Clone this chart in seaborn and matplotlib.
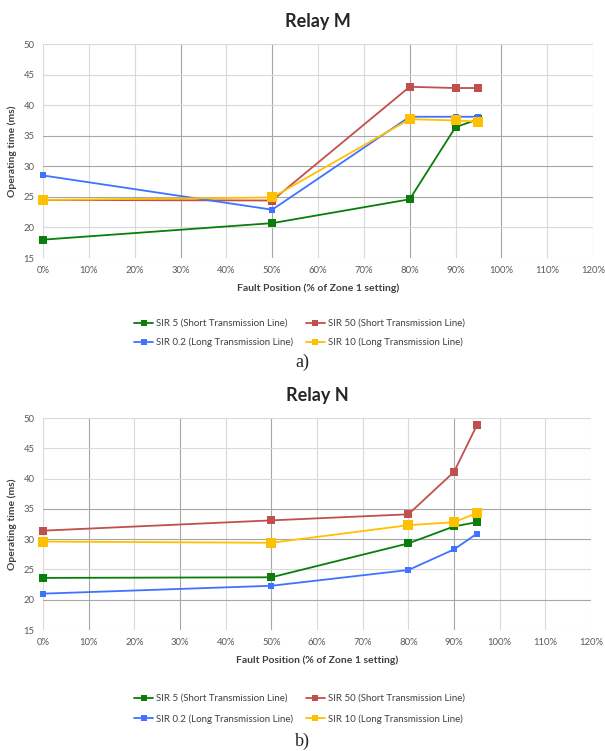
import matplotlib
matplotlib.use("Agg")
import matplotlib.pyplot as plt
import seaborn as sns
import pandas as pd
from matplotlib.lines import Line2D

# ---- data ----
fault_pos = [0, 50, 80, 90, 95]  # % of Zone 1 setting
series_names = ["SIR 5 (Short Transmission Line)", "SIR 50 (Short Transmission Line)",
                "SIR 0.2 (Long Transmission Line)", "SIR 10 (Long Transmission Line)"]

relay_m_sir5 = [18.0, 20.7, 24.6, 36.4, 37.7]
relay_m_sir50 = [24.5, 24.4, 43.0, 42.8, 42.8]
relay_m_sir02 = [28.5, 22.9, 38.1, 38.1, 38.1]
relay_m_sir10 = [24.5, 24.9, 37.7, 37.5, 37.3]

relay_n_sir5 = [23.6, 23.7, 29.3, 32.1, 32.8]
relay_n_sir50 = [31.4, 33.1, 34.1, 41.1, 48.8]
relay_n_sir02 = [21.0, 22.3, 24.9, 28.3, 30.9]
relay_n_sir10 = [29.6, 29.4, 32.3, 32.8, 34.3]

x_ticks = list(range(0, 121, 10))
y_ticks = list(range(15, 51, 5))

colors = ["#0a7d0a", "#c0504d", "#3f73ff", "#ffc000"]
msizes = [6.4, 6.0, 4.6, 7.0]

sns.set_theme(style="white")
plt.rcParams['font.family'] = ['Lato', 'DejaVu Sans']

fig = plt.figure(figsize=(6.05, 7.51), dpi=100)
W, H = 605, 751

def px_axes(l, t, r, b):
    return fig.add_axes([l / W, 1 - b / H, (r - l) / W, (b - t) / H])

ax1 = px_axes(43, 44, 593, 258)
ax2 = px_axes(43, 418, 591, 630)

def draw(ax, data, title, dark_x, dark_y, leg_top, leg_spacing):
    for vals, name, c, ms in zip(data, series_names, colors, msizes):
        df = pd.DataFrame({"x": fault_pos, "y": vals})
        sns.lineplot(data=df, x="x", y="y", ax=ax, color=c, marker="s",
                     markersize=ms, markeredgewidth=0, linewidth=1.3, zorder=3,
                     clip_on=False)
    ax.set_xlim(0, 120)
    ax.set_ylim(15, 50)
    ax.set_xticks(x_ticks)
    ax.set_xticklabels([f"{v}%" for v in x_ticks])
    ax.set_yticks(y_ticks)
    ax.tick_params(axis="both", labelsize=6.8, colors="#595959", length=0, pad=6)
    ax.grid(True, color="#d9d9d9", linewidth=0.8)
    for i, gl in enumerate(ax.get_xgridlines()):
        if x_ticks[i] in dark_x:
            gl.set_color("#a6a6a6")
    for i, gl in enumerate(ax.get_ygridlines()):
        if y_ticks[i] in dark_y:
            gl.set_color("#a6a6a6")
    for s in ax.spines.values():
        s.set_visible(False)
    ax.set_xlabel("Fault Position (% of Zone 1 setting)", fontsize=7.5,
                  fontweight="bold", color="#404040", labelpad=6)
    ax.set_ylabel("Operating time (ms)", fontsize=7.5, fontweight="bold",
                  color="#404040", labelpad=5)
    ax.set_title(title, fontsize=13, fontweight="bold", color="#262626", pad=12)
    handles = [Line2D([], [], color=c, marker="s", markersize=5,
                      markeredgewidth=0, linewidth=1.3) for c in colors]
    order = [0, 2, 1, 3]
    fig.legend([handles[i] for i in order], [series_names[i] for i in order],
               ncol=2, frameon=False, fontsize=7.0, loc="upper left",
               bbox_to_anchor=(134 / W, 1 - leg_top / H),
               bbox_transform=fig.transFigure,
               handlelength=2.0, handletextpad=0.25, columnspacing=1.3,
               labelspacing=leg_spacing, labelcolor="#404040", borderaxespad=0,
               borderpad=0)

draw(ax1, [relay_m_sir5, relay_m_sir50, relay_m_sir02, relay_m_sir10], "Relay M",
     dark_x=[30, 50, 80, 100], dark_y=[25, 30, 35], leg_top=319, leg_spacing=1.0)
draw(ax2, [relay_n_sir5, relay_n_sir50, relay_n_sir02, relay_n_sir10], "Relay N",
     dark_x=[10, 30, 50, 90], dark_y=[20, 30, 35], leg_top=694, leg_spacing=1.15)

fig.text(302 / W, 1 - 362 / H, "a)", ha="center", va="center",
         fontsize=13, family="Liberation Serif")
fig.text(302 / W, 1 - 741 / H, "b)", ha="center", va="center",
         fontsize=13, family="Liberation Serif")

fig.savefig("out.png", dpi=100, facecolor="white")
